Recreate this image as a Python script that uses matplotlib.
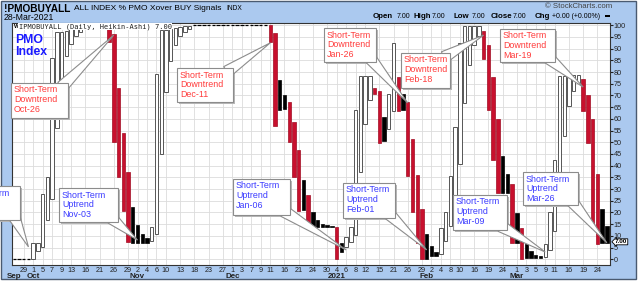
import matplotlib
matplotlib.use('Agg')
import matplotlib.pyplot as plt
from matplotlib.patches import Rectangle, Polygon
from matplotlib.transforms import IdentityTransform
import numpy as np
import pandas as pd

plt.rcParams['font.family'] = ['Liberation Sans', 'DejaVu Sans']

W, H = 640, 284

holidays = ['2020-11-26', '2020-12-25', '2021-01-01', '2021-01-18', '2021-02-15']
days = pd.bdate_range('2020-09-24', '2021-03-26')
days = days[~days.isin(pd.to_datetime(holidays))]

# heikin-ashi bodies per trading day, grouped by month
ha_open = (
    [0, 0, 0, 0, 0] +                                                     # Sep
    [0, 3.5, 5.3, 16.6, 25.8, 56, 76.5, 86.7, 92, 95.3, 97.2, 98.3, 98.9,
     99.3, 99.5, 99.6, 99.7, 96.3, 73, 54, 37.3, 22.3] +                  # Oct
    [14.7, 10.8, 8.9, 7.9, 11, 45, 71.5, 84.7, 91.6, 95.3, 97.3, 98.5,
     100, 100, 100, 100, 100, 100, 100, 100] +                            # Nov
    [100, 100, 100, 100, 100, 100, 100, 100, 100, 96.5, 76.8, 70.4, 67.3,
     58.6, 46.8, 33.7, 27.3, 20.2, 16.8, 15.2, 14.5, 14.1] +              # Dec
    [13.9, 6.9, 5.1, 7.4, 10.5, 37.2, 57.7, 68, 73.2, 72, 61, 55.7, 63.2,
     77.9, 70.7, 67.2, 51.4, 35.9, 21.4] +                                # Jan
    [10.7, 5.5, 3.3, 2.3, 7.8, 14.1, 24.9, 40.8, 66.6, 83.2, 91.5, 95.6,
     97.7, 91.6, 77.7, 60.1, 44.2, 36.3, 32.3] +                          # Feb
    [19.6, 13.2, 6.6, 3.5, 2, 1.3, 1, 3.8, 12.1, 27.3, 52.8, 65.5, 71.9,
     75.2, 76.9, 70.2, 59.9, 36.6, 21.6, 14.2])                           # Mar
ha_close = (
    [0, 0, 0, 0, 0] +
    [7, 7, 28, 35, 86, 97, 97, 97.5, 98.5, 99, 99.3, 99.5, 99.6,
     99.7, 99.8, 99.8, 93, 50, 35, 20.5, 7.3, 7] +
    [7, 7, 7, 14, 79, 98, 98, 98.5, 99, 99.3, 99.6, 99.8,
     100, 100, 100, 100, 100, 100, 100, 100] +
    [100, 100, 100, 100, 100, 100, 100, 100, 93, 57, 64, 64.2, 50,
     35, 20.5, 21, 13, 13.5, 13.6, 13.7, 13.7, 13.7] +
    [0, 3.3, 9.7, 13.7, 63.8, 78.3, 78.3, 78.3, 70.7, 49.9, 50.5, 70.7, 92.6,
     63.5, 63.6, 35.6, 20.4, 6.8, 0] +
    [0.3, 1.2, 1.3, 13.2, 20.4, 35.6, 56.7, 92.3, 99.7, 99.7, 99.7, 99.7,
     85.5, 63.8, 42.5, 28.2, 28.3, 28.4, 6.8] +
    [6.9, 0, 0.5, 0.5, 0.6, 0.7, 6.6, 20.4, 42.5, 78.3, 78.3, 78.3, 78.6,
     78.6, 63.5, 49.6, 13.2, 6.6, 6.8, 7])
# u = hollow (rising), r = red (close below prior close), k = black (falling body, close above prior)
kinds = ("uuuuu" +
         "uuuuuuuuuuuuuuuu" "rrrrr" "k" +
         "kkk" "uuuuuuuuu" "uuuuuuuu" +
         "uuuuuuuu" "rrkkrrrkrkkkkk" +
         "rkuuuuuurrkuurkrrrr" +
         "kkkuuuuuuuuurrrrkkr" +
         "krkkkkuuuuuuuurrrrkk")

tick_days = ['2020-09-29', '2020-10-01', '2020-10-05', '2020-10-07', '2020-10-09', '2020-10-13',
             '2020-10-16', '2020-10-21', '2020-10-26', '2020-10-29', '2020-11-02', '2020-11-04',
             '2020-11-06', '2020-11-10', '2020-11-13', '2020-11-18', '2020-11-23', '2020-11-27',
             '2020-12-01', '2020-12-03', '2020-12-07', '2020-12-09', '2020-12-11', '2020-12-16',
             '2020-12-21', '2020-12-24', '2020-12-30', '2021-01-04', '2021-01-06', '2021-01-08',
             '2021-01-12', '2021-01-15', '2021-01-21', '2021-01-26', '2021-01-29', '2021-02-02',
             '2021-02-04', '2021-02-08', '2021-02-10', '2021-02-16', '2021-02-19', '2021-02-24',
             '2021-03-01', '2021-03-03', '2021-03-05', '2021-03-09', '2021-03-11', '2021-03-16',
             '2021-03-19', '2021-03-24']
month_names = ['Sep', 'Oct', 'Nov', 'Dec', '2021', 'Feb', 'Mar']
month_days = ['2020-09-25', '2020-10-01', '2020-11-02', '2020-12-01', '2021-01-04',
              '2021-02-01', '2021-03-01']

note_text = ['Short-Term\nUptrend\nSep-30', 'Short-Term\nDowntrend\nOct-26',
             'Short-Term\nUptrend\nNov-03', 'Short-Term\nDowntrend\nDec-11',
             'Short-Term\nUptrend\nJan-06', 'Short-Term\nDowntrend\nJan-26',
             'Short-Term\nUptrend\nFeb-01', 'Short-Term\nDowntrend\nFeb-18',
             'Short-Term\nUptrend\nMar-09', 'Short-Term\nDowntrend\nMar-19',
             'Short-Term\nUptrend\nMar-26']
note_day = ['2020-09-30', '2020-10-26', '2020-11-02', '2020-12-11', '2021-01-06', '2021-01-26',
            '2021-02-01', '2021-02-18', '2021-03-09', '2021-03-19', '2021-03-26']
note_value = [5.3, 95.8, 8.2, 92.5, 4, 66.8, 4, 95.8, 3.1, 73.6, 7]
# callout boxes in pixels: left, top, right, bottom
note_box = [(-37, 186, 20, 220), (11, 83, 68, 118), (59, 188, 118, 222), (177, 68, 233, 102),
            (233, 179, 290, 215), (324, 28, 376, 62), (343, 183, 395, 218), (401, 53, 450, 88),
            (453, 195, 507, 230), (500, 29, 555, 62), (523, 172, 578, 205)]

x = np.arange(len(days))
o = np.array(ha_open, dtype=float)
c = np.array(ha_close, dtype=float)
kind = np.array(list(kinds))

def pos(d):
    return days.get_loc(pd.Timestamp(d))

px = IdentityTransform()
fig = plt.figure(figsize=(W / 100, H / 100), dpi=100, facecolor='white')
fig.add_artist(Rectangle((0.5, H - 279), 635.5, 278.5, fc='#abc9ef', ec='#4a5a70', lw=1,
                         transform=px, zorder=-5))
ax = fig.add_axes([12 / W, 1 - 265 / H, 597.5 / W, 242 / H])
ax.set_facecolor('white')

flat = np.abs(c - o) < 0.05
for k, fc, ec, lw in [('u', 'white', '#555555', 0.7), ('r', '#c8102e', '#a00c22', 0.5),
                      ('k', 'black', 'black', 0.5)]:
    m = (kind == k) & ~flat
    ax.bar(x[m], c[m] - o[m], bottom=o[m], width=0.72, color=fc, edgecolor=ec,
           linewidth=lw, zorder=3)
ax.hlines(c[flat], x[flat] - 0.36, x[flat] + 0.36, color='black', lw=0.9, zorder=3)

ax.set_xlim(0.53, 126.55)
ax.set_ylim(-2.44, 100.98)
ax.yaxis.tick_right()
ax.set_yticks(np.arange(0, 101, 5))
ax.tick_params(axis='y', labelsize=5.2, length=2, pad=0.8, colors='#222222')
ax.set_xticks([pos(d) for d in tick_days])
ax.set_xticklabels([str(pd.Timestamp(d).day) for d in tick_days])
ax.tick_params(axis='x', labelsize=5.2, length=0, pad=1.5, colors='#222222')
ax.grid(True, color='#dcdcdc', lw=0.6, zorder=0)
ax.set_axisbelow(True)
for s in ax.spines.values():
    s.set_color('#333333')
    s.set_linewidth(0.8)

for name, d in zip(month_names, month_days):
    ax.text(pos(d), -0.033, name, transform=ax.get_xaxis_transform(), ha='center', va='top',
            fontsize=5.8, fontweight='bold', color='#222222')

ax.text(0.003, 0.997, 'W', transform=ax.transAxes, fontsize=4.2, fontweight='bold', va='top')
ax.text(0.011, 0.999, 'IPMOBUYALL (Daily, Heikin-Ashi) 7.00', transform=ax.transAxes,
        fontsize=5.0, va='top', family='DejaVu Sans Mono', color='#222222',
        bbox=dict(fc='white', ec='none', pad=0.3), zorder=5)
ax.text(0.006, 0.955, 'PMO\nIndex', transform=ax.transAxes, fontsize=8.8, fontweight='bold',
        color='#1a1aff', va='top', linespacing=1.05)

# header
fig.text(4, H - 9, '!PMOBUYALL', transform=px, fontsize=7.3, fontweight='bold', va='center')
fig.text(74, H - 9, 'ALL INDEX % PMO Xover BUY Signals', transform=px, fontsize=6.0,
         va='center')
fig.text(226, H - 9, 'INDX', transform=px, fontsize=4.8, va='center')
fig.text(4, H - 17, '28-Mar-2021', transform=px, fontsize=6.3, va='center')
fig.text(612, H - 7, '\u00a9 StockCharts.com', transform=px, fontsize=5.6,
         va='center', ha='right', color='#444444')
for xp, s, bold in [(373, 'Open', True), (397, '7.00', False), (414, 'High', True),
                    (432, '7.00', False), (453, 'Low', True), (472, '7.00', False),
                    (491, 'Close', True), (513, '7.00', False), (535, 'Chg', True),
                    (552, '+0.00 (+0.00%)', False)]:
    fig.text(xp, H - 16, s, transform=px, fontsize=5.7 if bold else 5.0, va='center',
             fontweight='bold' if bold else 'normal')
fig.add_artist(Rectangle((605, H - 16.5), 5, 1.2, fc='black', ec='none', transform=px))

# last value tag
fig.text(615, H - 241.8, '7.00', transform=px, fontsize=4.6, va='center', fontweight='bold',
         bbox=dict(boxstyle='larrow,pad=0.08', fc='white', ec='black', lw=0.6), zorder=6)

# callouts
fig.canvas.draw()
for txt, d, v, box in zip(note_text, note_day, note_value, note_box):
    col = '#ff3b3b' if 'Down' in txt else '#3a3aff'
    l, t, r, b = box
    L, R, T, B = l, r, H - t, H - b
    tx, ty = ax.transData.transform((pos(d), v))
    cx, cy = min(max(tx, L), R), min(max(ty, B), T)
    mx, my = (L + R) / 2, (B + T) / 2
    dd = np.hypot(mx - cx, my - cy)
    bx, by = cx + (mx - cx) / dd * 7, cy + (my - cy) / dd * 7
    n = np.hypot(tx - bx, ty - by)
    nx, ny = -(ty - by) / n * 6, (tx - bx) / n * 6
    fig.add_artist(Rectangle((L + 2, B - 2), R - L, T - B, fc='#b8b8b8', ec='none',
                             transform=px, zorder=10))
    fig.add_artist(Polygon([(bx + nx, by + ny), (tx, ty), (bx - nx, by - ny)],
                           closed=True, fc='white', ec='#8c8c8c', lw=0.8,
                           transform=px, zorder=11))
    fig.add_artist(Rectangle((L, B), R - L, T - B, fc='white', ec='#8c8c8c', lw=0.8,
                             transform=px, zorder=12))
    fig.text(L + 3, T - 2.5, txt, transform=px, fontsize=6.4, color=col,
             va='top', ha='left', linespacing=1.12, zorder=13)

fig.savefig('out.png', dpi=100, facecolor=fig.get_facecolor())
